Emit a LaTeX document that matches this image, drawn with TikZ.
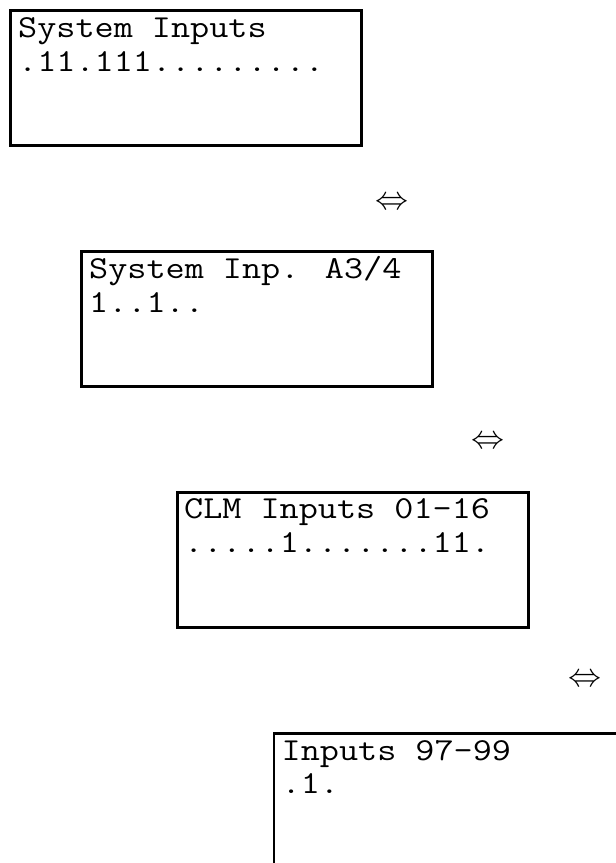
\documentclass[tikz,border=0pt]{standalone}
\usepackage{fontspec}
\newfontfamily\lcdfont[FakeStretch=1.16]{Latin Modern Mono}
\begin{document}
\begin{tikzpicture}[x=1pt,y=-1pt,
  lcd/.style={draw=black,line width=2.5pt,minimum width=351pt,minimum height=135pt,anchor=north west,inner sep=0pt},
  lcdtext/.style={anchor=base west,inner sep=0pt,font=\lcdfont\fontsize{32}{35}\selectfont},
  swap/.style={inner sep=0pt}]
\useasboundingbox (0,0) rectangle (616,863);
% boxes
\node[lcd] (b1) at (9,9) {};
\node[lcd] (b2) at (80,250) {};
\node[lcd] (b3) at (176,491) {};
\node[lcd] (b4) at (272.5,732) {};
% texts
\node[lcdtext] (t1a) at ([shift={(9,28)}]b1.north west) {System Inputs};
\node[lcdtext] (t1b) at ([shift={(9,62)}]b1.north west) {.11.111.........};
\node[lcdtext] (t2a) at ([shift={(9,28)}]b2.north west) {System Inp. A3/4};
\node[lcdtext] (t2b) at ([shift={(9,62)}]b2.north west) {1..1..};
\node[lcdtext] (t3a) at ([shift={(8,27)}]b3.north west) {CLM Inputs 01-16};
\node[lcdtext] (t3b) at ([shift={(8,61)}]b3.north west) {.....1.......11.};
\node[lcdtext] (t4a) at ([shift={(9,28)}]b4.north west) {Inputs 97-99};
\node[lcdtext] (t4b) at ([shift={(9,61)}]b4.north west) {.1.};
% swap symbols
\node[swap] (s1) at (392,203) {\scalebox{3.3}{$\Leftrightarrow$}};
\node[swap] (s2) at (488,442) {\scalebox{3.3}{$\Leftrightarrow$}};
\node[swap] (s3) at (585,680) {\scalebox{3.3}{$\Leftrightarrow$}};
\end{tikzpicture}
\end{document}
